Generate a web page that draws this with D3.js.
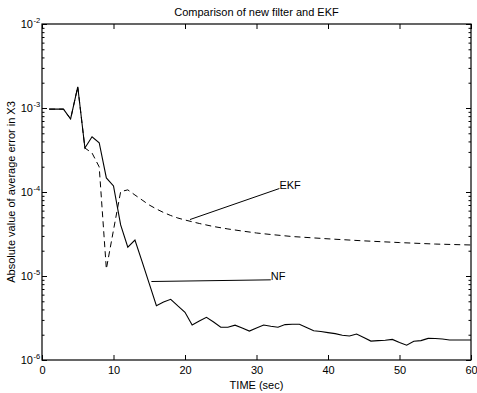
<!DOCTYPE html>
<html><head><meta charset="utf-8">
<script src="https://cdn.jsdelivr.net/npm/d3@7"></script>
<style>body{margin:0;background:#fff}svg{display:block}text{font-family:"Liberation Sans",Arial,sans-serif;fill:#000}</style>
</head><body><svg id="c" width="477" height="393"></svg>
<script>
const title = "Comparison of new filter and EKF";
const xLabel = "TIME (sec)";
const yLabel = "Absolute value of average error in X3";
const xTicks = [0, 10, 20, 30, 40, 50, 60];
const yTickExps = [-6, -5, -4, -3, -2];

const nfTime = [1,2,3,4,5,6,7,8,9,10,11,12,13,14,15,16,17,18,19,20,21,22,23,24,25,26,27,28,29,30,31,32,33,34,35,36,37,38,39,40,41,42,43,44,45,46,47,48,49,50,51,52,53,54,55,56,57,58,59,60];
const nfValue = [9.7e-4,9.7e-4,9.7e-4,7.4e-4,1.79e-3,3.34e-4,4.55e-4,3.86e-4,1.47e-4,1.18e-4,4.05e-5,2.2e-5,2.68e-5,1.48e-5,8.1e-6,4.43e-6,4.9e-6,5.28e-6,4.4e-6,3.7e-6,2.61e-6,2.91e-6,3.22e-6,2.83e-6,2.45e-6,2.45e-6,2.6e-6,2.4e-6,2.21e-6,2.4e-6,2.61e-6,2.52e-6,2.45e-6,2.64e-6,2.66e-6,2.66e-6,2.44e-6,2.23e-6,2.18e-6,2.12e-6,2.06e-6,1.97e-6,1.93e-6,2.04e-6,1.85e-6,1.68e-6,1.70e-6,1.72e-6,1.76e-6,1.62e-6,1.50e-6,1.67e-6,1.70e-6,1.81e-6,1.80e-6,1.78e-6,1.73e-6,1.73e-6,1.73e-6,1.73e-6];

const ekfTime = [1,2,3,4,5,6,7,8,9,10,11,12,13,14,15,16,17,18,19,20,22,24,26,28,30,32,35,40,45,50,55,60];
const ekfValue = [9.7e-4,9.7e-4,9.7e-4,7.4e-4,1.79e-3,3.34e-4,2.91e-4,1.99e-4,1.21e-5,3.53e-5,1.01e-4,1.06e-4,9.21e-5,8.03e-5,7.0e-5,6.28e-5,5.70e-5,5.25e-5,4.90e-5,4.64e-5,4.22e-5,3.88e-5,3.63e-5,3.43e-5,3.25e-5,3.12e-5,2.95e-5,2.77e-5,2.62e-5,2.50e-5,2.40e-5,2.34e-5];

// annotations: [label, label x (data), label y (data), arrow-start x (data), arrow-start y (data)]
const annEKF = ["EKF", 33.2, 1.1e-4, 20.7, 4.7e-5];
const annNF = ["NF", 32.0, 9.0e-6, 15.3, 8.6e-6];

const svg = d3.select("#c");
const L = 42, R = 471, T = 24, B = 360;
const x = d3.scaleLinear().domain([0, 60]).range([L, R]);
const y = d3.scaleLog().domain([1e-6, 1e-2]).range([B, T]);

// frame
svg.append("rect").attr("x", L).attr("y", T).attr("width", R - L).attr("height", B - T)
  .attr("fill", "none").attr("stroke", "#000").attr("stroke-width", 1.2);

// x ticks bottom and top (inward)
const gx = svg.append("g").attr("transform", `translate(0,${B})`)
  .call(d3.axisBottom(x).tickValues(xTicks).tickSize(-5).tickPadding(6).tickFormat(d3.format("d")));
const gxt = svg.append("g").attr("transform", `translate(0,${T})`)
  .call(d3.axisTop(x).tickValues(xTicks).tickSize(-5).tickFormat(""));
[gx, gxt].forEach(g => { g.select(".domain").remove(); g.selectAll("line").attr("stroke", "#000"); });
gx.selectAll("text").attr("font-size", 11).attr("font-family", '"Liberation Sans",Arial,sans-serif');

// y ticks: major and minor, left and right
const majors = yTickExps.map(e => Math.pow(10, e));
const minors = [];
yTickExps.slice(0, -1).forEach(e => { for (let k = 2; k <= 9; k++) minors.push(k * Math.pow(10, e)); });
const gyl = svg.append("g").attr("transform", `translate(${L},0)`)
  .call(d3.axisLeft(y).tickValues(majors).tickSize(-5).tickFormat(""));
const gylm = svg.append("g").attr("transform", `translate(${L},0)`)
  .call(d3.axisLeft(y).tickValues(minors).tickSize(-2.5).tickFormat(""));
const gyr = svg.append("g").attr("transform", `translate(${R},0)`)
  .call(d3.axisRight(y).tickValues(majors).tickSize(-5).tickFormat(""));
const gyrm = svg.append("g").attr("transform", `translate(${R},0)`)
  .call(d3.axisRight(y).tickValues(minors).tickSize(-2.5).tickFormat(""));
[gyl, gylm, gyr, gyrm].forEach(g => { g.select(".domain").remove(); g.selectAll("line").attr("stroke", "#000"); });

// y tick labels 10^e
yTickExps.forEach(e => {
  svg.append("text").attr("x", 33).attr("y", y(Math.pow(10, e)) + 4)
    .attr("text-anchor", "end").attr("font-size", 11).text("10");
  svg.append("text").attr("x", 33.5).attr("y", y(Math.pow(10, e)) - 1.5)
    .attr("font-size", 7.5).text(String(e));
});

// lines
const line = d3.line().x(d => x(d[0])).y(d => y(d[1]));
svg.append("path").datum(ekfTime.map((t, i) => [t, ekfValue[i]]))
  .attr("d", line).attr("fill", "none").attr("stroke", "#000").attr("stroke-width", 1)
  .attr("stroke-dasharray", "6,4");
svg.append("path").datum(nfTime.map((t, i) => [t, nfValue[i]]))
  .attr("d", line).attr("fill", "none").attr("stroke", "#000").attr("stroke-width", 1.1);

// annotations
[annEKF, annNF].forEach(a => {
  svg.append("line").attr("x1", x(a[3])).attr("y1", y(a[4])).attr("x2", x(a[1])).attr("y2", y(a[2]))
    .attr("stroke", "#000").attr("stroke-width", 1);
  svg.append("text").attr("x", x(a[1])).attr("y", y(a[2])).attr("font-size", 11).text(a[0]);
});

// titles
svg.append("text").attr("x", (L + R) / 2).attr("y", 16).attr("text-anchor", "middle")
  .attr("font-size", 11).text(title);
svg.append("text").attr("x", (L + R) / 2).attr("y", 389).attr("text-anchor", "middle")
  .attr("font-size", 11).text(xLabel);
svg.append("text").attr("transform", `translate(15,${(T + B) / 2}) rotate(-90)`)
  .attr("text-anchor", "middle").attr("font-size", 11).text(yLabel);
</script></body></html>
